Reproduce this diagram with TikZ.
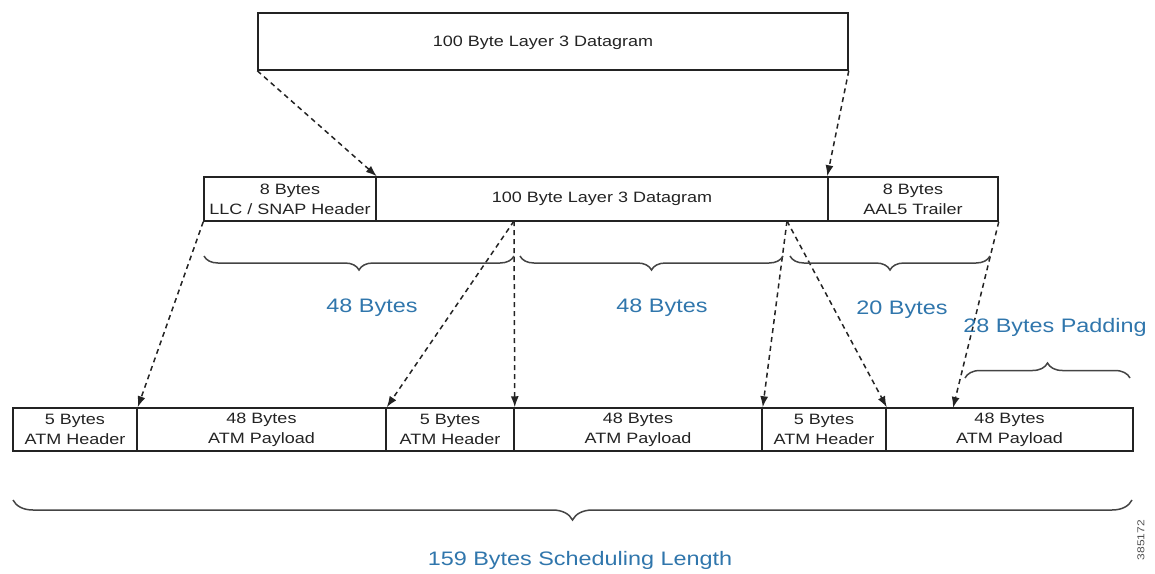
\documentclass[tikz,border=0pt]{standalone}
\usepackage{fontspec}
\setmainfont{Liberation Sans}[FakeStretch=1.2]
\usetikzlibrary{arrows.meta,decorations.pathreplacing}
\definecolor{lblue}{RGB}{48,118,172}
\definecolor{ink}{RGB}{35,35,35}
\begin{document}
\begin{tikzpicture}[x=1pt,y=-1pt,
  cell/.style={draw=ink, line width=1.5pt, inner sep=0pt, align=center, text=ink,
    minimum height=44pt, font=\fontsize{15}{20}\selectfont},
  dasharrow/.style={draw=ink, line width=1.5pt, dash pattern=on 5pt off 4pt,
    -{Latex[length=11pt,width=8pt]}},
  brc/.style={draw=ink!85, line width=1.5pt, decorate},
  blbl/.style={text=lblue, font=\fontsize{19.5}{22}\selectfont, inner sep=0pt}
]
\useasboundingbox (0,0) rectangle (1155,573);
% top box
\node[cell, minimum width=590pt, minimum height=57pt] (top) at (553,41.5) {};
\node[text=ink, font=\fontsize{15}{20}\selectfont, inner sep=0pt] (toptxt) at (543,43) {100 Byte Layer 3 Datagram};
% middle row
\node[cell, minimum width=172pt] (llc) at (290,199) {8 Bytes\\LLC / SNAP Header};
\node[cell, minimum width=452pt] (dg) at (602,199) {100 Byte Layer 3 Datagram};
\node[cell, minimum width=170pt] (aal) at (913,199) {8 Bytes\\AAL5 Trailer};
% bottom row
\node[cell, minimum width=124pt, minimum height=43pt] (h1) at (75,429.5) {5 Bytes\\ATM Header};
\node[cell, minimum width=249pt, minimum height=43pt] (p1) at (261.5,429.5) {48 Bytes\\ATM Payload};
\node[cell, minimum width=128pt, minimum height=43pt] (h2) at (450,429.5) {5 Bytes\\ATM Header};
\node[cell, minimum width=248pt, minimum height=43pt] (p2) at (638,429.5) {48 Bytes\\ATM Payload};
\node[cell, minimum width=124pt, minimum height=43pt] (h3) at (824,429.5) {5 Bytes\\ATM Header};
\node[cell, minimum width=247pt, minimum height=43pt] (p3) at (1009.5,429.5) {48 Bytes\\ATM Payload};
% split points
\coordinate (m1) at (514,221);
\coordinate (m2) at (787,221);
\coordinate (p3in) at (953,408);
% arrows
\draw[dasharrow] (top.south west) -- (llc.north east);
\draw[dasharrow] (top.south east) -- (aal.north west);
\draw[dasharrow] (llc.south west) -- (h1.north east);
\draw[dasharrow] (m1) -- (p1.north east);
\draw[dasharrow] (m1) -- (h2.north east);
\draw[dasharrow] (m2) -- (p2.north east);
\draw[dasharrow] (m2) -- (h3.north east);
\draw[dasharrow] (aal.south east) -- (p3in);
% braces
\draw[brc, decoration={brace, mirror, amplitude=14pt}] (204,256) -- (514,256);
\draw[brc, decoration={brace, mirror, amplitude=14pt}] (520,256) -- (783,256);
\draw[brc, decoration={brace, mirror, amplitude=14pt}] (790,256) -- (990,256);
\draw[brc, decoration={brace, amplitude=15pt}] (965,378) -- (1130,378);
\draw[brc, decoration={brace, mirror, amplitude=20pt}] (13,500) -- (1132,500);
% labels
\node[blbl] (l1) at (372,308) {48 Bytes};
\node[blbl] (l2) at (662,308) {48 Bytes};
\node[blbl] (l3) at (902,310) {20 Bytes};
\node[blbl] (l4) at (1055,327) {28 Bytes Padding};
\node[blbl] (l5) at (580,560) {159 Bytes Scheduling Length};
\node[text=ink!80, rotate=90, font=\fontsize{10}{12}\selectfont, inner sep=0pt] (id) at (1141,540) {385172};
\end{tikzpicture}
\end{document}
